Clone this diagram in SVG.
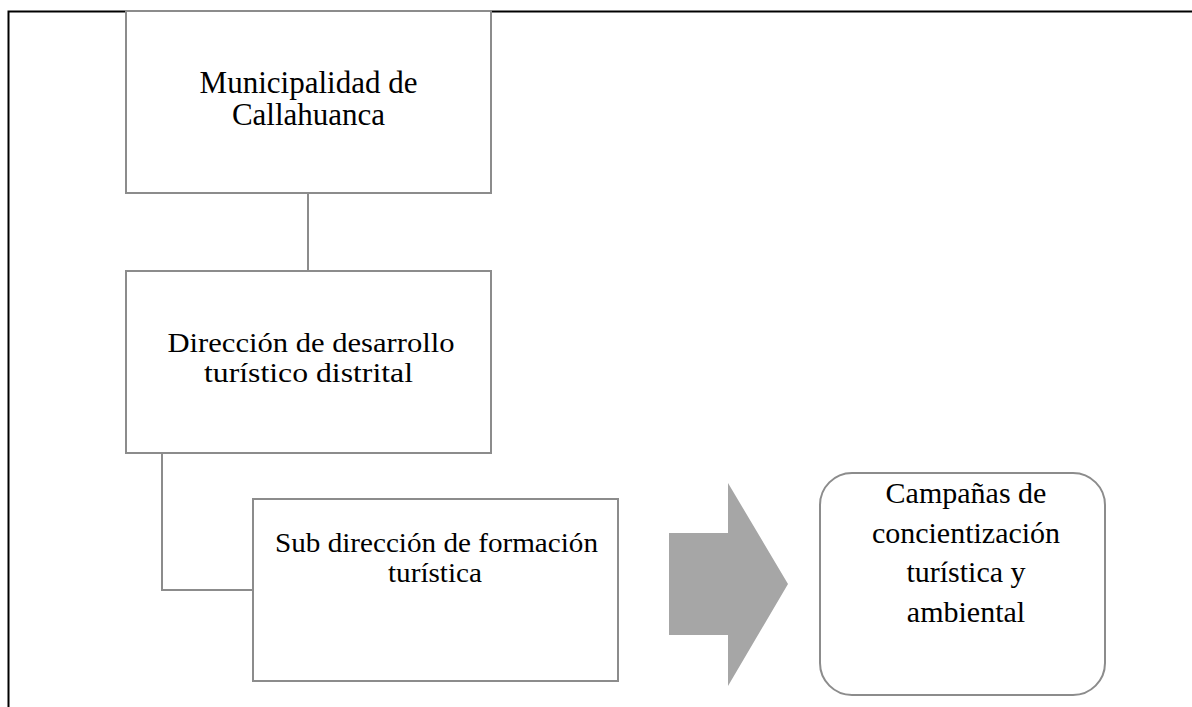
<svg xmlns="http://www.w3.org/2000/svg" width="1192" height="707" viewBox="0 0 1192 707">
<style>
.box{fill:#fff;stroke:#8c8c8c;stroke-width:2}
.conn{fill:none;stroke:#8c8c8c;stroke-width:2}
text{font-family:"Liberation Serif","Times New Roman",serif;fill:#000;text-anchor:middle}
.t1{font-size:31px}
.t2{font-size:26.5px}
.t3{font-size:26.5px}
.t4{font-size:30px}
</style>
<rect width="1192" height="707" fill="#fff"/>
<g id="frame"><path d="M8.5,707 V11.5 H1192" fill="none" stroke="#000" stroke-width="2"/></g>
<g id="connectors">
<path class="conn" d="M308,193 V271"/>
<path class="conn" d="M162,453 V590 H253"/>
</g>
<g id="n1"><rect class="box" x="126" y="11" width="365" height="182"/>
<text class="t1" x="308.5" y="93">Municipalidad de</text><text class="t1" x="308.5" y="125">Callahuanca</text></g>
<g id="n2"><rect class="box" x="126" y="271" width="365" height="182"/>
<text class="t2" x="311" y="352" textLength="287" lengthAdjust="spacingAndGlyphs">Dirección de desarrollo</text><text class="t2" x="308.5" y="382" textLength="209" lengthAdjust="spacingAndGlyphs">turístico distrital</text></g>
<g id="n3"><rect class="box" x="253" y="499" width="365" height="182"/>
<text class="t3" x="436.5" y="552" textLength="323" lengthAdjust="spacingAndGlyphs">Sub dirección de formación</text><text class="t3" x="435" y="582" textLength="94" lengthAdjust="spacingAndGlyphs">turística</text></g>
<g id="arrow"><path d="M669,533 H728 V483 L788,584 L728,686 V635 H669 Z" fill="#a6a6a6"/></g>
<g id="n4"><rect class="box" x="820" y="473" width="285" height="222" rx="32"/>
<text class="t4" x="966" y="503">Campañas de</text><text class="t4" x="966" y="543">concientización</text><text class="t4" x="966" y="582">turística y</text><text class="t4" x="966" y="622">ambiental</text></g>
</svg>
